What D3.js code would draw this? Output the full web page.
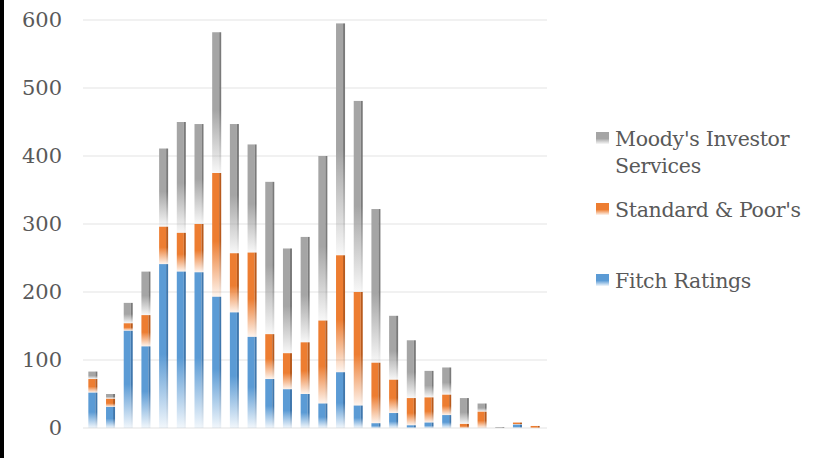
<!DOCTYPE html>
<html><head><meta charset="utf-8">
<script src="https://cdn.jsdelivr.net/npm/d3@7"></script>
<style>
html,body{margin:0;padding:0;background:#fff;}
svg{display:block;}
</style></head>
<body>
<svg id="chart" width="821" height="458"></svg>
<script>
const categories = ["1","2","3","4","5","6","7","8","9","10","11","12","13","14","15","16","17","18","19","20","21","22","23","24","25","26"];
const fitch   = [52,31,143,120,241,230,229,193,170,134,72,57,50,36,82,33,7,22,4,8,19,0,0,0,5,0];
const sp      = [20,12,11,46,55,57,71,182,87,124,66,53,76,122,172,167,89,49,40,37,30,6,24,0,3,3];
const moodys  = [11,7,30,64,115,163,147,207,190,159,224,154,155,242,341,281,226,94,85,39,40,38,12,1,0,0];
const seriesNames = ["Fitch Ratings","Standard & Poor's","Moody's Investor Services"];
const yTicks = [0,100,200,300,400,500,600];

const colors = {"Fitch Ratings":"#5B9BD5","Standard & Poor's":"#ED7D31","Moody's Investor Services":"#A5A5A5"};
const darks  = {"Fitch Ratings":"#3F77AD","Standard & Poor's":"#B85A1C","Moody's Investor Services":"#7A7A7A"};
const keys = ["fitch","sp","moodys"];

const rows = categories.map((c,i)=>({cat:c, fitch:fitch[i], sp:sp[i], moodys:moodys[i]}));
const stack = d3.stack().keys(keys)(rows);

const svg = d3.select("#chart");
const FONT = "'DejaVu Serif', serif";

svg.append("rect").attr("x",0).attr("y",0).attr("width",4).attr("height",458).attr("fill","#000");

const x = d3.scaleBand().domain(categories).range([84,544]).paddingInner(0.49).paddingOuter(0.245);
const y = d3.scaleLinear().domain([0,600]).range([428,20]);

const defs = svg.append("defs");
keys.forEach((k,i)=>{
  const name = seriesNames[i];
  [["main",colors[name]],["dark",darks[name]]].forEach(([t,c])=>{
    const g = defs.append("linearGradient").attr("id",`g-${k}-${t}`)
      .attr("x1",0).attr("y1",0).attr("x2",0).attr("y2",1);
    g.append("stop").attr("offset","0").attr("stop-color",c);
    g.append("stop").attr("offset","0.55").attr("stop-color",c);
    g.append("stop").attr("offset","1").attr("stop-color",c).attr("stop-opacity",0.08);
  });
});

// gridlines
svg.append("g").selectAll("line").data(yTicks).join("line")
  .attr("x1",83).attr("x2",547)
  .attr("y1",d=>y(d)).attr("y2",d=>y(d))
  .attr("stroke","#EDEDED").attr("stroke-width",1.5);

// y axis labels
const yAxis = d3.axisLeft(y).tickValues(yTicks).tickSize(0).tickPadding(0);
const ya = svg.append("g").attr("transform","translate(62,0)").call(yAxis);
ya.select(".domain").remove();
ya.selectAll("text").attr("font-family",FONT).attr("font-size",21).attr("fill","#595959");

// bars
const layers = svg.append("g").selectAll("g").data(stack).join("g");
layers.each(function(layer){
  const k = layer.key;
  const g = d3.select(this);
  const segs = layer.filter(d=>d[1]-d[0]>0);
  const bw = x.bandwidth();
  g.selectAll("rect.main").data(segs).join("rect").attr("class","main")
    .attr("x",d=>x(d.data.cat)).attr("width",bw-2)
    .attr("y",d=>y(d[1])).attr("height",d=>Math.max(0.5,y(d[0])-y(d[1])))
    .attr("fill",`url(#g-${k}-main)`);
  g.selectAll("rect.dark").data(segs).join("rect").attr("class","dark")
    .attr("x",d=>x(d.data.cat)+bw-2).attr("width",2)
    .attr("y",d=>y(d[1])).attr("height",d=>Math.max(0.5,y(d[0])-y(d[1])))
    .attr("fill",`url(#g-${k}-dark)`);
});

// legend
const legendItems = [
  {key:"moodys", lines:["Moody's Investor","Services"], y:146},
  {key:"sp", lines:["Standard & Poor's"], y:217},
  {key:"fitch", lines:["Fitch Ratings"], y:288}
];
const lg = svg.append("g");
legendItems.forEach(it=>{
  lg.append("rect").attr("x",596).attr("y",it.y-14).attr("width",13).attr("height",12)
    .attr("fill",`url(#g-${it.key}-main)`);
  const t = lg.append("text").attr("x",615).attr("y",it.y)
    .attr("font-family",FONT).attr("font-size",20.5).attr("letter-spacing",-0.3).attr("fill","#595959");
  it.lines.forEach((l,j)=>t.append("tspan").attr("x",615).attr("dy",j===0?0:27).text(l));
});
</script>
</body></html>
